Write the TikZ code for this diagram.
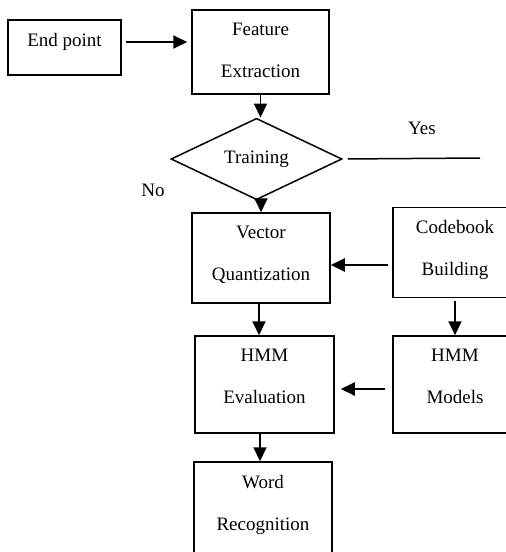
\documentclass[tikz,border=0pt]{standalone}
\usepackage{fontspec}
\setmainfont{Liberation Serif}
\usepackage{tikz}
\usetikzlibrary{arrows.meta,calc,shapes.geometric,positioning}

\begin{document}
\begin{tikzpicture}[x=1pt,y=-1pt]
    \tikzset{Box/.style = {draw, rectangle, line width=1.5pt, inner sep=0pt,
        align=center, text depth=4pt,
        font=\fontsize{19}{42}\selectfont},
      Ask/.style = {draw, diamond, line width=1.5pt, inner sep=0pt,
        font=\fontsize{19}{23}\selectfont},
      Lbl/.style = {font=\fontsize{19}{23}\selectfont},
      Edge/.style = {line width=1.9pt, -{Triangle[length=14pt,width=13pt]}}}
    \useasboundingbox (0,0) rectangle (506,552);
    \clip (0,0) rectangle (506,552);
    \node[Box, minimum width=113pt, minimum height=55pt, text height=14pt, text depth=17pt] (E) at (64.5,47.5) {End point};
    \node[Box, minimum width=137pt, minimum height=84pt, text height=54pt] (F) at (260.5,52) {Feature\\Extraction};
    \node[Ask, minimum width=171pt, minimum height=64pt] (T) at (256.5,159) {Training};
    \node[Box, minimum width=138pt, minimum height=90pt, text height=48pt] (V) at (261,258) {Vector\\Quantization};
    \node[Box, minimum width=124pt, minimum height=90pt, text height=49pt] (C) at (455,252.5) {Codebook\\Building};
    \node[Box, minimum width=139pt, minimum height=97pt, text height=41pt] (H) at (264.5,384.5) {HMM\\Evaluation};
    \node[Box, minimum width=124pt, minimum height=97pt, text height=41pt] (M) at (455,384.5) {HMM\\Models};
    \node[Box, minimum width=138pt, minimum height=97pt, text height=43pt] (W) at (263,510.5) {Word\\Recognition};
    \node[Lbl] (Y) at (422,128) {Yes};
    \node[Lbl] (N) at (153,190) {No};
    \coordinate (Yend) at (480,158);
    \draw[Edge, shorten <=4pt, shorten >=4pt] ([yshift=5.5pt]E.east) coordinate (a) -- (F.west |- a);
    \draw[Edge] (F.south) -- (F.south |- T.north);
    \draw[Edge] (V.north |- T.south) -- (V.north);
    \draw[line width=1.5pt, shorten <=5pt] (T.east) -- (Yend);
    \draw[Edge] ([xshift=-4pt,yshift=-12.5pt]C.west) coordinate (b) -- (V.east |- b);
    \draw[Edge, shorten <=3pt] (C.south) -- (M.north);
    \draw[Edge, shorten >=6pt] ([xshift=-7pt,yshift=-4.5pt]M.west) coordinate (c) -- (H.east |- c);
    \draw[Edge] ([xshift=-2pt]V.south) coordinate (d) -- (d |- H.north);
    \draw[Edge] ([xshift=-4.5pt]H.south) coordinate (e) -- (e |- W.north);
  \end{tikzpicture}
\end{document}
